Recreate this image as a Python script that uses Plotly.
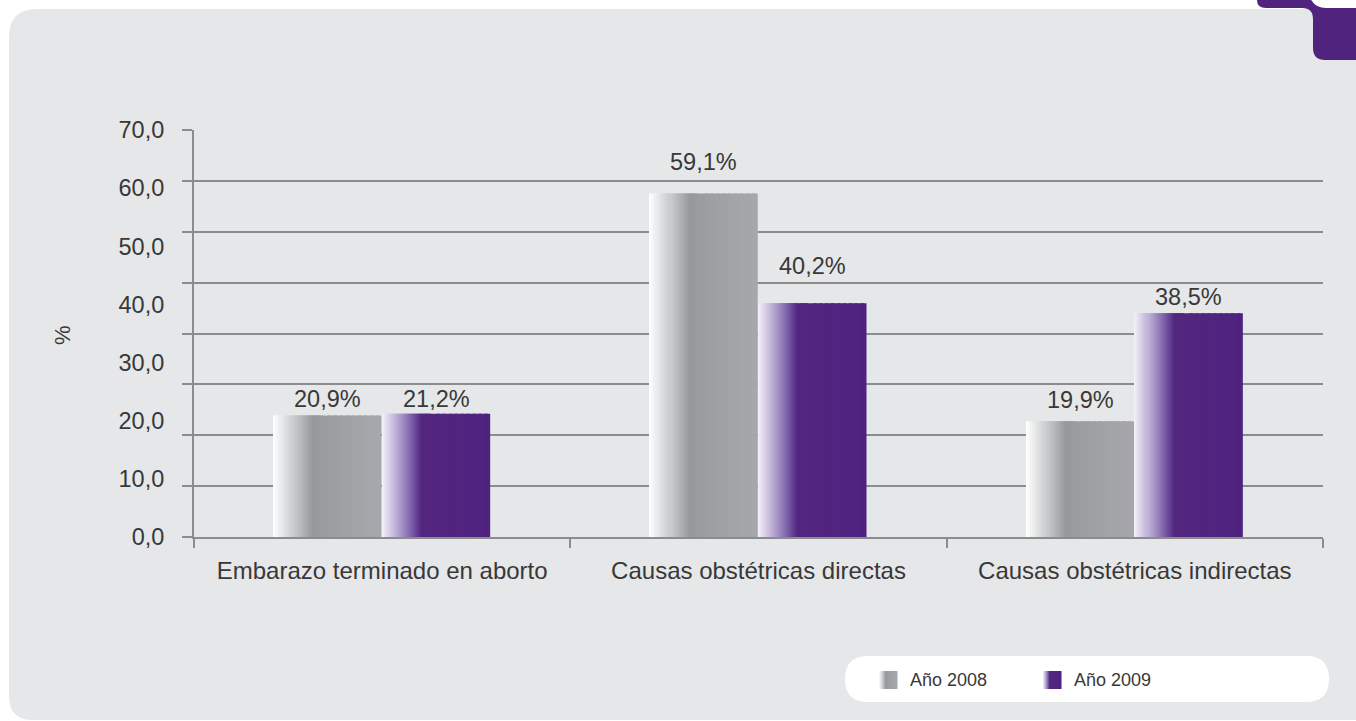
import plotly.graph_objects as go

# ---- data -------------------------------------------------------------
categories = [
    "Embarazo terminado en aborto",
    "Causas obstétricas directas",
    "Causas obstétricas indirectas",
]
series_names = ["Año 2008", "Año 2009"]
values_2008 = [20.9, 59.1, 19.9]
values_2009 = [21.2, 40.2, 38.5]
y_tick_values = [0, 10, 20, 30, 40, 50, 60, 70]

# ---- geometry / style ---------------------------------------------------
W, H = 1356, 721
ML, MR, MT, MB = 194, 33, 130, 184
PW, PH = W - ML - MR, H - MT - MB
CAT_PX = PW / len(categories)

FONT = "Liberation Sans, Arial, sans-serif"
TEXT = "#383838"
GRID = "#8b8c8e"
PANEL = "#e6e7e9"
PURPLE = "#50237f"

BAR_W = 0.287
OFFSETS = [-0.289, 0.0]
# label lift above each bar top, in pixels (per series, per category)
LABEL_LIFT = [[16, 31, 21], [15, 37, 16]]

# horizontal gradient stops (fraction of bar width, colour)
STOPS_2008 = [(0.0, "#ffffff"), (0.12, "#dddee0"), (0.25, "#bbbcbf"),
              (0.37, "#97989c"), (0.5, "#9c9da0"), (1.0, "#a7a8ab")]
STOPS_2009 = [(0.0, "#f5f1f9"), (0.1, "#cbbfdf"), (0.2, "#9f8bc2"),
              (0.3, "#70509f"), (0.37, "#53267f"), (1.0, "#4f2280")]

# slice boundaries (fraction of bar width): fine where the shading changes
SLICE_EDGES = [i * 0.45 / 48 for i in range(48)] + [0.45 + i * 0.055 for i in range(11)]


def hex_rgb(h):
    h = h.lstrip("#")
    return tuple(int(h[i:i + 2], 16) for i in (0, 2, 4))


def grad(stops, t):
    for (t0, c0), (t1, c1) in zip(stops[:-1], stops[1:]):
        if t <= t1:
            f = 0 if t1 == t0 else (t - t0) / (t1 - t0)
            a, b = hex_rgb(c0), hex_rgb(c1)
            r, g, bl = (round(a[k] + (b[k] - a[k]) * f) for k in range(3))
            return f"rgb({r},{g},{bl})"
    r, g, bl = hex_rgb(stops[-1][1])
    return f"rgb({r},{g},{bl})"


def fx(x):
    return (x - ML) / PW


def fy(y):
    return (H - MB - y) / PH


def path(segs):
    out = []
    for s in segs:
        cmd, pts = s[0], s[1:]
        if cmd == "Z":
            out.append("Z")
            continue
        coords = [f"{fx(pts[i]):.5f},{fy(pts[i + 1]):.5f}" for i in range(0, len(pts), 2)]
        out.append(cmd + " " + " ".join(coords))
    return " ".join(out)


fig = go.Figure()

# gradient-filled bars, built from thin vertical slices
for vals, off, stops in zip([values_2008, values_2009], OFFSETS,
                            [STOPS_2008, STOPS_2009]):
    edges = SLICE_EDGES
    for i in range(len(edges) - 1):
        t0, t1 = edges[i], edges[i + 1]
        t_end = min(1.0, t1 + (t1 - t0) * 0.6)
        fig.add_trace(go.Bar(
            x=categories, y=vals,
            width=[(t_end - t0) * BAR_W] * len(categories),
            offset=off + t0 * BAR_W,
            marker=dict(color=grad(stops, (t0 + t1) / 2), line_width=0),
            showlegend=False, hoverinfo="skip", yaxis="y",
        ))

# full-width transparent bars (hover targets) on the labelled axis
for name, vals, off in zip(series_names, [values_2008, values_2009], OFFSETS):
    fig.add_trace(go.Bar(
        x=categories, y=vals, width=[BAR_W] * len(categories), offset=off,
        name=name, marker=dict(color="rgba(0,0,0,0)", line_width=0),
        hovertemplate="%{x}<br>" + name + ": %{y:.1f}%<extra></extra>",
        showlegend=False, yaxis="y2",
    ))

annotations = []
# value labels above the bars
for vals, off, lifts in zip([values_2008, values_2009], OFFSETS, LABEL_LIFT):
    for cat, v, lift in zip(categories, vals, lifts):
        annotations.append(dict(
            x=cat, y=v, xref="x", yref="y2",
            xshift=(off + BAR_W / 2) * CAT_PX, yshift=lift,
            text=f"{v:.1f}".replace(".", ",") + "%", showarrow=False,
            xanchor="center", yanchor="middle",
            font=dict(family=FONT, size=23.5, color=TEXT),
        ))

shapes = []
# rounded grey panel
shapes.append(dict(
    type="path", xref="paper", yref="paper", layer="below",
    path=path([("M", 9, 37), ("Q", 9, 9, 37, 9), ("L", 1400, 9),
               ("L", 1400, 720), ("L", 33, 720), ("Q", 9, 720, 9, 696), ("Z",)]),
    fillcolor=PANEL, line_width=0,
))
# purple corner tab
shapes.append(dict(
    type="path", xref="paper", yref="paper", layer="below",
    path=path([("M", 1257, -2), ("L", 1310, -2), ("Q", 1315, 8, 1326, 8),
               ("L", 1400, 8), ("L", 1400, 60), ("L", 1325, 60),
               ("Q", 1313, 60, 1313, 48), ("L", 1313, 19),
               ("Q", 1313, 8, 1302, 8), ("L", 1266, 8),
               ("Q", 1257, 8, 1257, 0), ("Z",)]),
    fillcolor=PURPLE, line_width=0,
))
# legend pill
shapes.append(dict(
    type="path", xref="paper", yref="paper", layer="below",
    path=path([("M", 868, 656), ("L", 1306, 656), ("Q", 1329, 656, 1329, 679),
               ("Q", 1329, 702, 1306, 702), ("L", 868, 702),
               ("Q", 845, 702, 845, 679), ("Q", 845, 656, 868, 656), ("Z",)]),
    fillcolor="#ffffff", line_width=0,
))

# legend swatches (gradient) and labels
legend_x = [879, 1043]
for name, x0, stops in zip(series_names, legend_x, [STOPS_2008, STOPS_2009]):
    n = 18
    sw = 18 / n
    for i in range(n):
        shapes.append(dict(
            type="rect", xref="paper", yref="paper", layer="above",
            x0=fx(x0 + i * sw), x1=fx(x0 + (i + 1) * sw + 0.5),
            y0=fy(689), y1=fy(671),
            fillcolor=grad(stops, (i + 0.5) / n), line_width=0,
        ))
    annotations.append(dict(
        xref="paper", yref="paper", x=fx(x0 + 29), y=fy(680),
        xanchor="left", yanchor="middle", showarrow=False, text=name,
        font=dict(family=FONT, size=18, color=TEXT),
    ))

# axis title
annotations.append(dict(
    xref="paper", yref="paper", x=fx(62), y=fy(335), text="%",
    textangle=-90, showarrow=False, xanchor="center", yanchor="middle",
    font=dict(family=FONT, size=22, color=TEXT),
))

fig.update_layout(
    width=W, height=H, autosize=False,
    margin=dict(l=ML, r=MR, t=MT, b=MB, pad=0),
    paper_bgcolor="#ffffff", plot_bgcolor="rgba(0,0,0,0)",
    barmode="overlay", separators=",.",
    showlegend=False,
    font=dict(family=FONT, size=23, color=TEXT),
    xaxis=dict(
        type="category", categoryorder="array", categoryarray=categories,
        showline=True, linecolor=GRID, linewidth=1.5,
        ticks="outside", tickson="boundaries", ticklen=9,
        tickcolor=GRID, tickwidth=1.5, showgrid=False,
        tickfont=dict(family=FONT, size=24, color=TEXT),
        ticklabelstandoff=11,
    ),
    yaxis=dict(
        range=[0, 70], showline=True, linecolor=GRID, linewidth=1.5,
        tickmode="array", tickvals=[i * 70 / 8 for i in range(9)],
        showticklabels=False, ticks="outside", ticklen=10,
        tickcolor=GRID, tickwidth=1.5,
        showgrid=True, gridcolor=GRID, gridwidth=1.5, zeroline=False,
    ),
    yaxis2=dict(
        range=[0, 70], overlaying="y", side="left", showline=False,
        tickmode="array", tickvals=y_tick_values, tickformat=".1f",
        ticks="outside", ticklen=24, tickcolor="rgba(0,0,0,0)",
        showgrid=False, zeroline=False,
        tickfont=dict(family=FONT, size=23.5, color=TEXT),
    ),
    shapes=shapes,
    annotations=annotations,
)

fig.write_html("out.html")
